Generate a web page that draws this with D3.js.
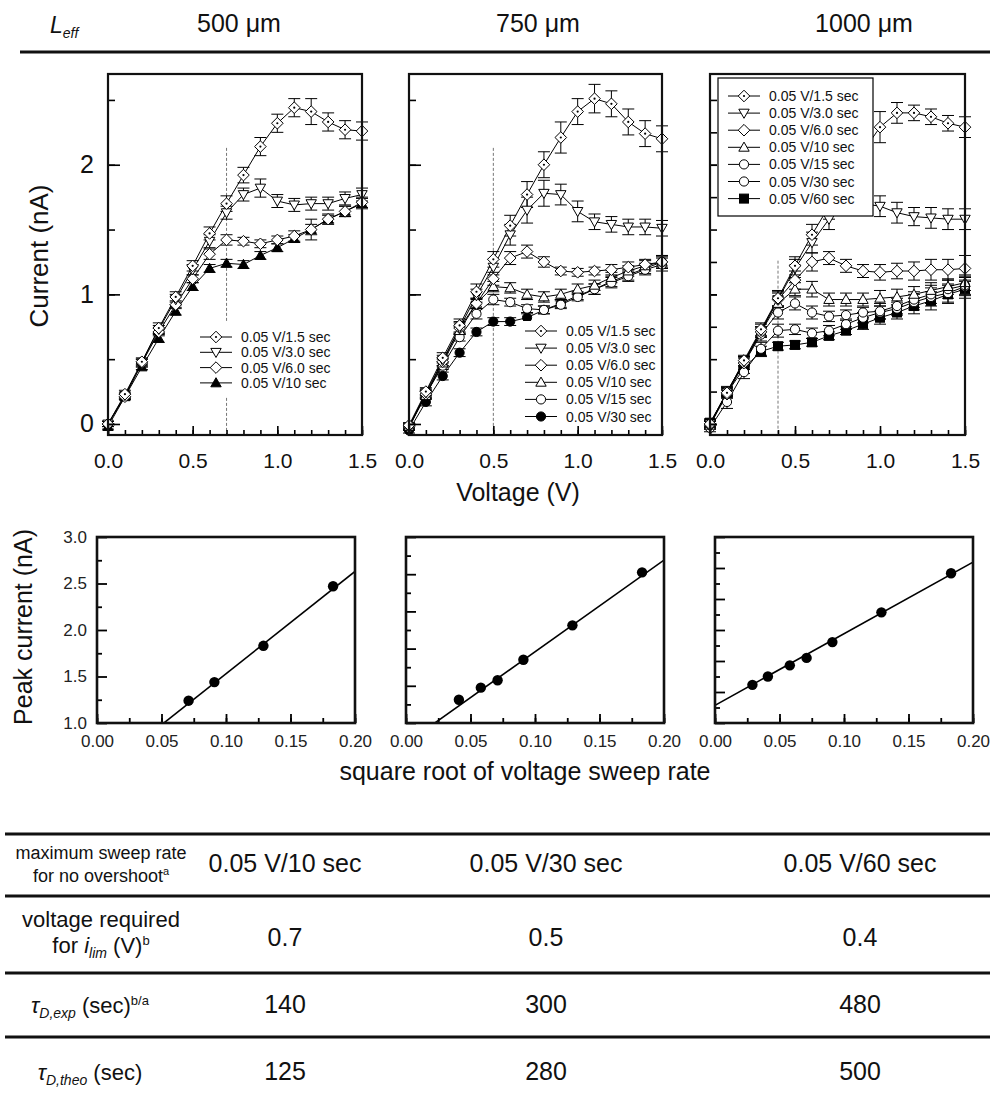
<!DOCTYPE html>
<html>
<head>
<meta charset="utf-8">
<script src="https://cdn.jsdelivr.net/npm/d3@7"></script>
<style>
  body { margin: 0; background: #fff; }
  text { font-family: "Liberation Sans", Arial, Helvetica, sans-serif; }
</style>
</head>
<body>
<svg id="fig" width="990" height="1100"></svg>
<script>
// ---- data ----
const lengths = ["500 \u03bcm", "750 \u03bcm", "1000 \u03bcm"];
const voltage = [0.0,0.1,0.2,0.3,0.4,0.5,0.6,0.7,0.8,0.9,1.0,1.1,1.2,1.3,1.4,1.5];
const voltTicks = [0.0, 0.5, 1.0, 1.5];
const rateLabels = ["0.05 V/1.5 sec","0.05 V/3.0 sec","0.05 V/6.0 sec","0.05 V/10 sec","0.05 V/15 sec","0.05 V/30 sec","0.05 V/60 sec"];

// 500 um
const c500_1p5 = [0.00,0.23,0.48,0.74,0.98,1.22,1.47,1.70,1.92,2.14,2.32,2.44,2.41,2.33,2.27,2.26];
const c500_3   = [0.00,0.22,0.47,0.73,0.96,1.19,1.41,1.63,1.77,1.82,1.72,1.69,1.70,1.70,1.74,1.77];
const c500_6   = [0.00,0.21,0.47,0.71,0.92,1.12,1.31,1.42,1.41,1.39,1.42,1.45,1.50,1.58,1.64,1.71];
const c500_10  = [-0.02,0.21,0.44,0.66,0.87,1.06,1.20,1.24,1.23,1.30,1.36,1.43,1.50,1.58,1.64,1.70];
const e500_1p5 = [0.02,0.03,0.03,0.04,0.04,0.04,0.05,0.06,0.06,0.07,0.07,0.07,0.10,0.07,0.07,0.07];
const e500_3   = [0.02,0.02,0.03,0.03,0.04,0.04,0.05,0.05,0.05,0.07,0.05,0.05,0.05,0.05,0.05,0.05];
const e500_6   = [0.02,0.02,0.03,0.03,0.03,0.03,0.04,0.04,0.03,0.03,0.03,0.04,0.04,0.04,0.04,0.04];
const e500_10  = [0.02,0.02,0.02,0.03,0.03,0.03,0.03,0.03,0.03,0.03,0.03,0.03,0.08,0.03,0.04,0.04];

// 750 um
const c750_1p5 = [-0.01,0.25,0.51,0.76,1.02,1.27,1.53,1.77,2.00,2.21,2.41,2.51,2.47,2.33,2.24,2.20];
const c750_3   = [-0.02,0.24,0.49,0.74,0.99,1.21,1.46,1.65,1.78,1.77,1.64,1.56,1.54,1.52,1.52,1.51];
const c750_6   = [-0.02,0.23,0.48,0.74,0.93,1.12,1.28,1.33,1.25,1.18,1.17,1.18,1.19,1.21,1.23,1.25];
const c750_10  = [-0.02,0.22,0.47,0.72,0.93,1.06,1.05,1.00,0.98,1.00,1.04,1.07,1.13,1.18,1.22,1.25];
const c750_15  = [-0.03,0.23,0.45,0.67,0.85,0.96,0.94,0.89,0.88,0.92,0.98,1.04,1.09,1.14,1.19,1.23];
const c750_30  = [-0.05,0.17,0.37,0.55,0.71,0.79,0.79,0.82,0.88,0.93,0.99,1.04,1.10,1.15,1.20,1.25];
const e750_1p5 = [0.02,0.03,0.04,0.05,0.06,0.06,0.08,0.10,0.10,0.12,0.10,0.11,0.10,0.10,0.10,0.10];
const e750_3   = [0.02,0.03,0.04,0.05,0.05,0.06,0.08,0.10,0.10,0.08,0.08,0.06,0.06,0.06,0.06,0.06];
const e750_6   = [0.02,0.03,0.03,0.04,0.04,0.05,0.05,0.05,0.04,0.03,0.03,0.03,0.04,0.04,0.04,0.04];
const e750_10  = [0.02,0.03,0.03,0.03,0.04,0.04,0.04,0.04,0.04,0.04,0.04,0.04,0.04,0.04,0.04,0.05];
const e750_15  = [0.02,0.03,0.03,0.03,0.04,0.04,0.03,0.03,0.03,0.03,0.03,0.04,0.04,0.04,0.04,0.05];
const e750_30  = [0.02,0.03,0.03,0.03,0.03,0.03,0.03,0.03,0.03,0.03,0.03,0.04,0.04,0.04,0.04,0.05];

// 1000 um
const c1000_1p5 = [0.00,0.24,0.49,0.73,0.97,1.22,1.46,1.68,1.90,2.10,2.29,2.40,2.40,2.37,2.32,2.29];
const c1000_3   = [0.00,0.24,0.48,0.72,0.96,1.20,1.40,1.58,1.70,1.70,1.68,1.63,1.60,1.59,1.58,1.58];
const c1000_6   = [-0.01,0.23,0.47,0.71,0.96,1.11,1.25,1.28,1.22,1.18,1.17,1.18,1.18,1.19,1.19,1.20];
const c1000_10  = [-0.01,0.25,0.48,0.71,0.93,1.04,1.04,0.96,0.96,0.96,0.97,0.98,1.00,1.03,1.06,1.09];
const c1000_15  = [0.00,0.25,0.47,0.69,0.86,0.93,0.86,0.83,0.84,0.86,0.87,0.91,0.96,1.00,1.04,1.07];
const c1000_30  = [-0.03,0.17,0.40,0.58,0.72,0.73,0.70,0.72,0.77,0.82,0.86,0.89,0.94,0.98,1.01,1.06];
const c1000_60  = [0.01,0.24,0.43,0.56,0.60,0.61,0.63,0.68,0.72,0.77,0.82,0.86,0.91,0.95,1.00,1.04];
const e1000_1p5 = [0.03,0.03,0.04,0.05,0.06,0.07,0.08,0.10,0.10,0.10,0.12,0.08,0.06,0.06,0.06,0.08];
const e1000_3   = [0.03,0.03,0.04,0.05,0.06,0.07,0.08,0.08,0.08,0.08,0.08,0.08,0.07,0.08,0.08,0.08];
const e1000_6   = [0.03,0.03,0.04,0.04,0.05,0.07,0.07,0.05,0.05,0.05,0.06,0.06,0.07,0.08,0.08,0.10];
const e1000_10  = [0.03,0.03,0.04,0.04,0.05,0.05,0.06,0.05,0.05,0.05,0.06,0.06,0.06,0.06,0.06,0.06];
const e1000_15  = [0.03,0.04,0.05,0.05,0.05,0.05,0.05,0.04,0.04,0.04,0.06,0.06,0.06,0.07,0.07,0.07];
const e1000_30  = [0.03,0.05,0.05,0.05,0.05,0.04,0.04,0.04,0.04,0.04,0.05,0.05,0.06,0.07,0.07,0.07];
const e1000_60  = [0.03,0.04,0.04,0.04,0.03,0.03,0.03,0.03,0.03,0.04,0.05,0.05,0.06,0.07,0.07,0.07];

// voltage where the limiting current sets in (dashed guide) and its top
const limVoltage = [0.7, 0.5, 0.4];
const limGuideTop = [2.13, 2.13, 1.26];

// peak current vs square root of sweep rate
const sqrtRate500  = [0.071, 0.091, 0.129, 0.183];
const peak500      = [1.24, 1.44, 1.83, 2.47];
const sqrtRate750  = [0.041, 0.058, 0.071, 0.091, 0.129, 0.183];
const peak750      = [1.25, 1.38, 1.46, 1.68, 2.05, 2.62];
const sqrtRate1000 = [0.029, 0.041, 0.058, 0.071, 0.091, 0.129, 0.183];
const peak1000     = [1.41, 1.50, 1.62, 1.70, 1.87, 2.19, 2.61];
const fitSlope     = [11.0, 9.86, 7.7];
const fitIntercept = [0.43, 0.78, 1.19];
const sqrtTicks    = [0.00, 0.05, 0.10, 0.15, 0.20];
const peakTicks    = [1.0, 1.5, 2.0, 2.5, 3.0];

// table
const rowSweep = ["0.05 V/10 sec", "0.05 V/30 sec", "0.05 V/60 sec"];
const rowVolt  = ["0.7", "0.5", "0.4"];
const rowTauExp  = ["140", "300", "480"];
const rowTauTheo = ["125", "280", "500"];

// ---- drawing ----
const svg = d3.select("#fig");
const FONT = '"Liberation Sans", Arial, Helvetica, sans-serif';

function addMarker(g, type, cx, cy) {
  const r = 5.2;
  if (type === "circle" || type === "circleFilled") {
    g.append("circle").attr("cx", cx).attr("cy", cy).attr("r", 4.6)
      .attr("fill", type === "circleFilled" ? "#000" : "#fff").attr("stroke", "#000").attr("stroke-width", 1);
  } else if (type === "squareFilled") {
    g.append("rect").attr("x", cx - 4.5).attr("y", cy - 4.5).attr("width", 9).attr("height", 9)
      .attr("fill", "#000").attr("stroke", "#000");
  } else {
    let d;
    if (type === "diamond" || type === "diamondDot") d = `M0,${-r-0.6}L${r+0.6},0L0,${r+0.6}L${-r-0.6},0Z`;
    else if (type === "triDown") d = `M${-r},${-r*0.75}L${r},${-r*0.75}L0,${r}Z`;
    else d = `M${-r},${r*0.75}L${r},${r*0.75}L0,${-r}Z`;
    g.append("path").attr("d", d).attr("transform", `translate(${cx},${cy})`)
      .attr("fill", type === "triUpFilled" ? "#000" : "#fff").attr("stroke", "#000").attr("stroke-width", 1);
    if (type === "diamondDot") {
      g.append("circle").attr("cx", cx).attr("cy", cy).attr("r", 1.1).attr("fill", "#000");
    }
  }
}

const topTop = 74, topBottom = 435;
const yTop = d3.scaleLinear().domain([-0.085, 2.70]).range([topBottom, topTop]);

const topPanels = [
  { left: 108, right: 362,
    series: [
      { v: c500_1p5, e: e500_1p5, m: "diamondDot", label: rateLabels[0] },
      { v: c500_3,   e: e500_3,   m: "triDown",    label: rateLabels[1] },
      { v: c500_6,   e: e500_6,   m: "diamond",    label: rateLabels[2] },
      { v: c500_10,  e: e500_10,  m: "triUpFilled",label: rateLabels[3] }],
    legend: { x: 200, y: 337, dy: 15.3, box: false, bg: [196, 322, 140, 75] },
    yMinor: 0.5, yMajor: 1, labels: true },
  { left: 409, right: 662,
    series: [
      { v: c750_1p5, e: e750_1p5, m: "diamondDot",  label: rateLabels[0] },
      { v: c750_3,   e: e750_3,   m: "triDown",     label: rateLabels[1] },
      { v: c750_6,   e: e750_6,   m: "diamond",     label: rateLabels[2] },
      { v: c750_10,  e: e750_10,  m: "triUp",       label: rateLabels[3] },
      { v: c750_15,  e: e750_15,  m: "circle",      label: rateLabels[4] },
      { v: c750_30,  e: e750_30,  m: "circleFilled",label: rateLabels[5] }],
    legend: { x: 525, y: 331, dy: 17.1, box: false, bg: [521, 321, 138, 106] },
    yMinor: 0.5, yMajor: 1, labels: false },
  { left: 710, right: 965,
    series: [
      { v: c1000_1p5, e: e1000_1p5, m: "diamondDot",  label: rateLabels[0] },
      { v: c1000_3,   e: e1000_3,   m: "triDown",     label: rateLabels[1] },
      { v: c1000_6,   e: e1000_6,   m: "diamond",     label: rateLabels[2] },
      { v: c1000_10,  e: e1000_10,  m: "triUp",       label: rateLabels[3] },
      { v: c1000_15,  e: e1000_15,  m: "circle",      label: rateLabels[4] },
      { v: c1000_30,  e: e1000_30,  m: "circle",      label: rateLabels[5] },
      { v: c1000_60,  e: e1000_60,  m: "squareFilled",label: rateLabels[6] }],
    legend: { x: 728, y: 96, dy: 17.1, box: true, bg: [718, 78, 155, 138] },
    yMinor: 0.25, yMajor: 0.5, labels: false }
];

function drawTopPanel(p, i) {
  const x = d3.scaleLinear().domain([0, 1.5]).range([p.left, p.right]);
  const g = svg.append("g");

  // dashed guide at the limiting voltage
  g.append("line")
    .attr("x1", x(limVoltage[i])).attr("x2", x(limVoltage[i]))
    .attr("y1", yTop(limGuideTop[i])).attr("y2", topBottom)
    .attr("stroke", "#666").attr("stroke-width", 0.9).attr("stroke-dasharray", "3,2");

  const line = d3.line().x((d, j) => x(voltage[j])).y(d => yTop(d));
  p.series.forEach(s => {
    g.append("path").attr("d", line(s.v)).attr("fill", "none").attr("stroke", "#000").attr("stroke-width", 1);
  });
  // error bars
  p.series.forEach(s => {
    s.v.forEach((d, j) => {
      const cx = x(voltage[j]), lo = yTop(d - s.e[j]), hi = yTop(d + s.e[j]);
      g.append("path").attr("d", `M${cx},${lo}V${hi}M${cx-6},${lo}H${cx+6}M${cx-6},${hi}H${cx+6}`)
        .attr("stroke", "#000").attr("stroke-width", 1).attr("fill", "none");
    });
  });
  // markers, first series drawn last (on top)
  p.series.slice().reverse().forEach(s => {
    s.v.forEach((d, j) => addMarker(g, s.m, x(voltage[j]), yTop(d)));
  });

  // legend
  const L = p.legend;
  g.append("rect").attr("x", L.bg[0]).attr("y", L.bg[1]).attr("width", L.bg[2]).attr("height", L.bg[3])
    .attr("fill", "#fff").attr("stroke", L.box ? "#000" : "none").attr("stroke-width", 1.2);
  p.series.forEach((s, j) => {
    const ly = L.y + j * L.dy;
    g.append("line").attr("x1", L.x).attr("x2", L.x + 32).attr("y1", ly).attr("y2", ly)
      .attr("stroke", "#000").attr("stroke-width", 1);
    addMarker(g, s.m, L.x + 16, ly);
    g.append("text").attr("x", L.x + 41).attr("y", ly).attr("dy", "0.36em")
      .attr("font-size", 14).attr("fill", "#111").text(s.label);
  });

  // axes (inward ticks)
  const xAxisMinor = d3.axisBottom(x).tickValues(d3.range(0, 16).map(k => k / 10)).tickSize(-5).tickFormat("");
  const xAxisMajor = d3.axisBottom(x).tickValues(voltTicks).tickSize(-9).tickPadding(18).tickFormat(d3.format(".1f"));
  [xAxisMinor, xAxisMajor].forEach(ax => {
    g.append("g").attr("transform", `translate(0,${topBottom})`).call(ax)
      .call(a => a.select(".domain").remove())
      .call(a => a.selectAll("line").attr("stroke-width", 1.6))
      .call(a => a.selectAll("text").attr("font-size", 21).attr("font-family", FONT).attr("fill", "#111"));
  });
  const nMinor = Math.round(2.5 / p.yMinor);
  const yMinorTicks = d3.range(0, nMinor + 1).map(k => k * p.yMinor);
  const yAxisMinor = d3.axisLeft(yTop).tickValues(yMinorTicks).tickSize(-7).tickFormat("");
  const yAxisMajor = d3.axisLeft(yTop).tickValues([0, 1, 2]).tickSize(p.yMajor === 1 ? -12 : -7)
    .tickPadding(14).tickFormat(p.labels ? d3.format("d") : "");
  [yAxisMinor, yAxisMajor].forEach(ax => {
    g.append("g").attr("transform", `translate(${p.left},0)`).call(ax)
      .call(a => a.select(".domain").remove())
      .call(a => a.selectAll("line").attr("stroke-width", 1.6))
      .call(a => a.selectAll("text").attr("font-size", 25).attr("font-family", FONT).attr("fill", "#111"));
  });

  // frame
  g.append("rect").attr("x", p.left).attr("y", topTop).attr("width", p.right - p.left).attr("height", topBottom - topTop)
    .attr("fill", "none").attr("stroke", "#111").attr("stroke-width", 2.2);
}
topPanels.forEach(drawTopPanel);

svg.append("text").attr("x", 518).attr("y", 501).attr("text-anchor", "middle")
  .attr("font-size", 25).attr("fill", "#111").text("Voltage (V)");
svg.append("text").attr("transform", "translate(39,256) rotate(-90)").attr("text-anchor", "middle")
  .attr("dy", "0.35em").attr("font-size", 26).attr("fill", "#111").text("Current (nA)");

// ---- bottom row: peak current ----
const botTop = 537, botBottom = 723;
const yBot = d3.scaleLinear().domain([1, 3]).range([botBottom, botTop]);
const botPanels = [
  { left: 97,  right: 355, xs: sqrtRate500,  ys: peak500,  yStep: 0.25,  labels: true },
  { left: 406, right: 664, xs: sqrtRate750,  ys: peak750,  yStep: 0.2,   labels: false },
  { left: 715, right: 973, xs: sqrtRate1000, ys: peak1000, yStep: 1 / 6, labels: false }
];

botPanels.forEach((p, i) => {
  const x = d3.scaleLinear().domain([0, 0.2]).range([p.left, p.right]);
  const g = svg.append("g");
  const clipId = "clip" + i;
  g.append("clipPath").attr("id", clipId).append("rect")
    .attr("x", p.left).attr("y", botTop).attr("width", p.right - p.left).attr("height", botBottom - botTop);

  const fit = d3.line().x(d => x(d)).y(d => yBot(fitIntercept[i] + fitSlope[i] * d));
  g.append("path").attr("d", fit([0, 0.2])).attr("clip-path", `url(#${clipId})`)
    .attr("fill", "none").attr("stroke", "#000").attr("stroke-width", 1.6);

  g.selectAll("circle.pt").data(p.xs).enter().append("circle").attr("class", "pt")
    .attr("cx", d => x(d)).attr("cy", (d, j) => yBot(p.ys[j])).attr("r", 5.2).attr("fill", "#000");

  const xMinor = d3.axisBottom(x).tickValues(d3.range(0, 9).map(k => k * 0.025)).tickSize(-5).tickFormat("");
  const xMajor = d3.axisBottom(x).tickValues(sqrtTicks).tickSize(-9).tickPadding(12).tickFormat(d3.format(".2f"));
  [xMinor, xMajor].forEach(ax => {
    g.append("g").attr("transform", `translate(0,${botBottom})`).call(ax)
      .call(a => a.select(".domain").remove())
      .call(a => a.selectAll("line").attr("stroke-width", 1.8))
      .call(a => a.selectAll("text").attr("font-size", 17).attr("font-family", FONT).attr("fill", "#222"));
  });
  const n = Math.round(2 / p.yStep);
  const yVals = d3.range(0, n + 1).map(k => 1 + k * p.yStep);
  const yMinor = d3.axisLeft(yBot).tickValues(yVals.filter((d, k) => k % 2 === 1)).tickSize(-5).tickFormat("");
  const yMajor = d3.axisLeft(yBot).tickValues(p.labels ? peakTicks : yVals.filter((d, k) => k % 2 === 0))
    .tickSize(-10).tickPadding(10).tickFormat(p.labels ? d3.format(".1f") : "");
  [yMinor, yMajor].forEach(ax => {
    g.append("g").attr("transform", `translate(${p.left},0)`).call(ax)
      .call(a => a.select(".domain").remove())
      .call(a => a.selectAll("line").attr("stroke-width", 1.8))
      .call(a => a.selectAll("text").attr("font-size", 17).attr("font-family", FONT).attr("fill", "#222"));
  });

  g.append("rect").attr("x", p.left).attr("y", botTop).attr("width", p.right - p.left).attr("height", botBottom - botTop)
    .attr("fill", "none").attr("stroke", "#111").attr("stroke-width", 2.6);
});

svg.append("text").attr("x", 525).attr("y", 780).attr("text-anchor", "middle")
  .attr("font-size", 25).attr("fill", "#111").text("square root of voltage sweep rate");
svg.append("text").attr("transform", "translate(23,627) rotate(-90)").attr("text-anchor", "middle")
  .attr("dy", "0.35em").attr("font-size", 25).attr("fill", "#111").text("Peak current (nA)");

// ---- header ----
const lt = svg.append("text").attr("x", 50).attr("y", 33).attr("font-size", 23).attr("font-style", "italic").attr("fill", "#111");
lt.append("tspan").text("L");
lt.append("tspan").attr("dy", 5).attr("font-size", 14).text("eff");
const headX = [239, 538, 864];
lengths.forEach((t, k) => {
  svg.append("text").attr("x", headX[k]).attr("y", 32).attr("text-anchor", "middle")
    .attr("font-size", 25).attr("fill", "#111").text(t);
});
svg.append("line").attr("x1", 20).attr("x2", 990).attr("y1", 52).attr("y2", 52)
  .attr("stroke", "#111").attr("stroke-width", 3);

// ---- table ----
[834, 896, 973, 1037].forEach(yy => {
  svg.append("line").attr("x1", 5).attr("x2", 990).attr("y1", yy).attr("y2", yy)
    .attr("stroke", "#111").attr("stroke-width", 3);
});
const colX = [285, 546, 860];
const rowBase = [872, 946, 1013, 1080];
[rowSweep, rowVolt, rowTauExp, rowTauTheo].forEach((row, r) => {
  row.forEach((t, c) => {
    svg.append("text").attr("x", colX[c]).attr("y", rowBase[r]).attr("text-anchor", "middle")
      .attr("font-size", 25).attr("fill", "#111").text(t);
  });
});

function label(x, y, size) {
  return svg.append("text").attr("x", x).attr("y", y).attr("text-anchor", "middle")
    .attr("font-size", size).attr("fill", "#111");
}
label(101, 859, 18).text("maximum sweep rate");
const l1 = label(101, 882, 18);
l1.append("tspan").text("for no overshoot");
l1.append("tspan").attr("dy", -7).attr("font-size", 11).text("a");
label(101, 927, 22).text("voltage required");
const l2 = label(101, 953, 22);
l2.append("tspan").text("for ");
l2.append("tspan").attr("font-style", "italic").text("i");
l2.append("tspan").attr("font-style", "italic").attr("font-size", 14).attr("dy", 5).text("lim");
l2.append("tspan").attr("dy", -5).text(" (V)");
l2.append("tspan").attr("dy", -8).attr("font-size", 13).text("b");
const l3 = label(90, 1013, 22);
l3.append("tspan").attr("font-style", "italic").text("\u03c4");
l3.append("tspan").attr("font-style", "italic").attr("font-size", 14).attr("dy", 5).text("D,exp");
l3.append("tspan").attr("dy", -5).text(" (sec)");
l3.append("tspan").attr("dy", -8).attr("font-size", 13).text("b/a");
const l4 = label(90, 1080, 22);
l4.append("tspan").attr("font-style", "italic").text("\u03c4");
l4.append("tspan").attr("font-style", "italic").attr("font-size", 14).attr("dy", 5).text("D,theo");
l4.append("tspan").attr("dy", -5).text(" (sec)");
</script>
</body>
</html>
